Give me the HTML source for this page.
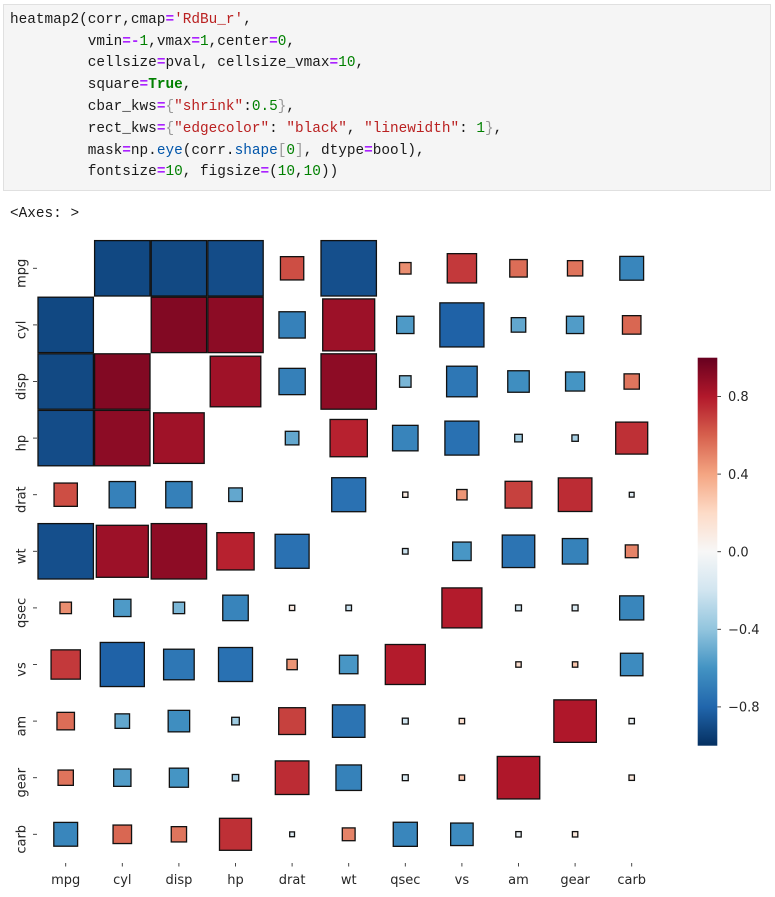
<!DOCTYPE html>
<html>
<head>
<meta charset="utf-8">
<style>
  html, body { margin:0; padding:0; background:#ffffff; }
  body { width:775px; height:897px; position:relative; overflow:hidden; }
  .codebox {
    position:absolute; left:3px; top:4px; width:766px; height:185px;
    background:#f5f5f5; border:1px solid #e0e0e0;
  }
  pre {
    margin:0; font-family:"Liberation Mono", "DejaVu Sans Mono", monospace;
    font-size:14.4px; line-height:21.8px; color:#1a1a1a;
  }
  .codebox pre { position:absolute; left:6px; top:4.8px; }
  .o { color:#aa22ff; font-weight:bold; }
  .s { color:#ba2121; }
  .n { color:#008000; }
  .k { color:#008000; font-weight:bold; }
  .p { color:#0055aa; }
  .b { color:#999999; }
  .out { position:absolute; left:10px; top:204px; }
  svg { position:absolute; left:0; top:0; }
</style>
</head>
<body>
<div class="codebox"><pre>heatmap2(corr,cmap<span class="o">=</span><span class="s">'RdBu_r'</span>,
         vmin<span class="o">=-</span><span class="n">1</span>,vmax<span class="o">=</span><span class="n">1</span>,center<span class="o">=</span><span class="n">0</span>,
         cellsize<span class="o">=</span>pval, cellsize_vmax<span class="o">=</span><span class="n">10</span>,
         square<span class="o">=</span><span class="k">True</span>,
         cbar_kws<span class="o">=</span><span class="b">{</span><span class="s">"shrink"</span>:<span class="n">0.5</span><span class="b">}</span>,
         rect_kws<span class="o">=</span><span class="b">{</span><span class="s">"edgecolor"</span>: <span class="s">"black"</span>, <span class="s">"linewidth"</span>: <span class="n">1</span><span class="b">}</span>,
         mask<span class="o">=</span>np.<span class="p">eye</span>(corr.<span class="p">shape</span><span class="b">[</span><span class="n">0</span><span class="b">]</span>, dtype<span class="o">=</span>bool),
         fontsize<span class="o">=</span><span class="n">10</span>, figsize<span class="o">=</span>(<span class="n">10</span>,<span class="n">10</span>))</pre></div>
<pre class="out">&lt;Axes: &gt;</pre>

<svg width="775" height="897" viewBox="0 0 775 897" xmlns="http://www.w3.org/2000/svg">
  <defs>
    <linearGradient id="cb" x1="0" y1="0" x2="0" y2="1">
      <stop offset="0" stop-color="#67001f"/>
      <stop offset="0.1" stop-color="#b2182b"/>
      <stop offset="0.2" stop-color="#d6604d"/>
      <stop offset="0.3" stop-color="#f4a582"/>
      <stop offset="0.4" stop-color="#fddbc7"/>
      <stop offset="0.5" stop-color="#f7f7f7"/>
      <stop offset="0.6" stop-color="#d1e5f0"/>
      <stop offset="0.7" stop-color="#92c5de"/>
      <stop offset="0.8" stop-color="#4393c3"/>
      <stop offset="0.9" stop-color="#2166ac"/>
      <stop offset="1" stop-color="#053061"/>
    </linearGradient>
  </defs>

  <g stroke="#111111" stroke-width="1.3">
    <!-- row mpg -->
    <rect x="94.6" y="240.6" width="55.4" height="55.4" fill="#114882"/>
    <rect x="151.2" y="240.6" width="55.4" height="55.4" fill="#124983"/>
    <rect x="207.8" y="240.6" width="55.4" height="55.4" fill="#144c88"/>
    <rect x="280.45" y="256.65" width="23.3" height="23.3" fill="#cd4e44"/>
    <rect x="321.0" y="240.6" width="55.4" height="55.4" fill="#154f8c"/>
    <rect x="399.55" y="262.55" width="11.5" height="11.5" fill="#ea8e70"/>
    <rect x="447.25" y="253.65" width="29.3" height="29.3" fill="#c3393b"/>
    <rect x="509.75" y="259.55" width="17.5" height="17.5" fill="#dc6d57"/>
    <rect x="567.45" y="260.65" width="15.3" height="15.3" fill="#df745c"/>
    <rect x="619.8" y="256.4" width="23.8" height="23.8" fill="#3986bc"/>
    <!-- row cyl -->
    <rect x="38.0" y="297.2" width="55.4" height="55.4" fill="#114882"/>
    <rect x="151.2" y="297.2" width="55.4" height="55.4" fill="#820923"/>
    <rect x="207.8" y="297.2" width="55.4" height="55.4" fill="#8c0c25"/>
    <rect x="278.95" y="311.75" width="26.3" height="26.3" fill="#3681ba"/>
    <rect x="322.7" y="298.9" width="52" height="52" fill="#9c1128"/>
    <rect x="396.65" y="316.25" width="17.3" height="17.3" fill="#4e9ac7"/>
    <rect x="439.85" y="302.85" width="44.1" height="44.1" fill="#1f62a7"/>
    <rect x="511.25" y="317.65" width="14.5" height="14.5" fill="#62a7ce"/>
    <rect x="566.45" y="316.25" width="17.3" height="17.3" fill="#519cc8"/>
    <rect x="622.45" y="315.65" width="18.5" height="18.5" fill="#d96752"/>
    <!-- row disp -->
    <rect x="38.0" y="353.8" width="55.4" height="55.4" fill="#124983"/>
    <rect x="94.6" y="353.8" width="55.4" height="55.4" fill="#820923"/>
    <rect x="210.2" y="356.2" width="50.6" height="50.6" fill="#9f1228"/>
    <rect x="278.95" y="368.35" width="26.3" height="26.3" fill="#3580b9"/>
    <rect x="321.0" y="353.8" width="55.4" height="55.4" fill="#8d0c25"/>
    <rect x="399.55" y="375.75" width="11.5" height="11.5" fill="#7ab6d6"/>
    <rect x="446.6" y="366.2" width="30.6" height="30.6" fill="#2e77b5"/>
    <rect x="507.75" y="370.75" width="21.5" height="21.5" fill="#3f8ec0"/>
    <rect x="565.55" y="371.95" width="19.1" height="19.1" fill="#4595c4"/>
    <rect x="624.05" y="373.85" width="15.3" height="15.3" fill="#df755d"/>
    <!-- row hp -->
    <rect x="38.0" y="410.4" width="55.4" height="55.4" fill="#144c88"/>
    <rect x="94.6" y="410.4" width="55.4" height="55.4" fill="#8c0c25"/>
    <rect x="153.6" y="412.8" width="50.6" height="50.6" fill="#9f1228"/>
    <rect x="285.3" y="431.3" width="13.6" height="13.6" fill="#63a7ce"/>
    <rect x="330.05" y="419.45" width="37.3" height="37.3" fill="#b7212f"/>
    <rect x="392.55" y="425.35" width="25.5" height="25.5" fill="#3884bb"/>
    <rect x="444.9" y="421.1" width="34" height="34" fill="#2971b2"/>
    <rect x="514.7" y="434.3" width="7.6" height="7.6" fill="#9ecbe1"/>
    <rect x="571.9" y="434.9" width="6.4" height="6.4" fill="#a8d0e4"/>
    <rect x="615.7" y="422.1" width="32" height="32" fill="#be3036"/>
    <!-- row drat -->
    <rect x="54.05" y="483.05" width="23.3" height="23.3" fill="#cd4e44"/>
    <rect x="109.15" y="481.55" width="26.3" height="26.3" fill="#3681ba"/>
    <rect x="165.75" y="481.55" width="26.3" height="26.3" fill="#3580b9"/>
    <rect x="228.7" y="487.9" width="13.6" height="13.6" fill="#63a7ce"/>
    <rect x="331.7" y="477.7" width="34" height="34" fill="#2a71b2"/>
    <rect x="402.65" y="492.05" width="5.3" height="5.3" fill="#faeae1"/>
    <rect x="456.7" y="489.5" width="10.4" height="10.4" fill="#ed9576"/>
    <rect x="505.1" y="481.3" width="26.8" height="26.8" fill="#c6413e"/>
    <rect x="558.3" y="477.9" width="33.6" height="33.6" fill="#bc2c34"/>
    <rect x="629.3" y="492.3" width="4.8" height="4.8" fill="#dfecf3"/>
    <!-- row wt -->
    <rect x="38.0" y="523.6" width="55.4" height="55.4" fill="#154f8c"/>
    <rect x="96.3" y="525.3" width="52" height="52" fill="#9c1128"/>
    <rect x="151.2" y="523.6" width="55.4" height="55.4" fill="#8d0c25"/>
    <rect x="216.85" y="532.65" width="37.3" height="37.3" fill="#b7212f"/>
    <rect x="275.1" y="534.3" width="34" height="34" fill="#2a71b2"/>
    <rect x="402.5" y="548.5" width="5.6" height="5.6" fill="#c9e1ee"/>
    <rect x="452.65" y="542.05" width="18.5" height="18.5" fill="#4896c5"/>
    <rect x="502.25" y="535.05" width="32.5" height="32.5" fill="#2c74b3"/>
    <rect x="562.35" y="538.55" width="25.5" height="25.5" fill="#3682ba"/>
    <rect x="625.3" y="544.9" width="12.8" height="12.8" fill="#e58368"/>
    <!-- row qsec -->
    <rect x="59.95" y="602.15" width="11.5" height="11.5" fill="#ea8e70"/>
    <rect x="113.65" y="599.25" width="17.3" height="17.3" fill="#4e9ac7"/>
    <rect x="173.15" y="602.15" width="11.5" height="11.5" fill="#7ab6d6"/>
    <rect x="222.75" y="595.15" width="25.5" height="25.5" fill="#3884bb"/>
    <rect x="289.45" y="605.25" width="5.3" height="5.3" fill="#faeae1"/>
    <rect x="345.9" y="605.1" width="5.6" height="5.6" fill="#c9e1ee"/>
    <rect x="441.9" y="587.9" width="40" height="40" fill="#b31b2c"/>
    <rect x="515.55" y="604.95" width="5.9" height="5.9" fill="#d0e5f0"/>
    <rect x="572.15" y="604.95" width="5.9" height="5.9" fill="#dbeaf2"/>
    <rect x="619.65" y="595.85" width="24.1" height="24.1" fill="#3986bc"/>
    <!-- row vs -->
    <rect x="51.05" y="649.85" width="29.3" height="29.3" fill="#c3393b"/>
    <rect x="100.25" y="642.45" width="44.1" height="44.1" fill="#1f62a7"/>
    <rect x="163.6" y="649.2" width="30.6" height="30.6" fill="#2e77b5"/>
    <rect x="218.5" y="647.5" width="34" height="34" fill="#2971b2"/>
    <rect x="286.9" y="659.3" width="10.4" height="10.4" fill="#ed9576"/>
    <rect x="339.45" y="655.25" width="18.5" height="18.5" fill="#4896c5"/>
    <rect x="385.3" y="644.5" width="40" height="40" fill="#b31b2c"/>
    <rect x="515.8" y="661.8" width="5.4" height="5.4" fill="#fcdfcf"/>
    <rect x="572.4" y="661.8" width="5.4" height="5.4" fill="#f9c5ac"/>
    <rect x="620.45" y="653.25" width="22.5" height="22.5" fill="#3d8bbf"/>
    <!-- row am -->
    <rect x="56.95" y="712.35" width="17.5" height="17.5" fill="#dc6d57"/>
    <rect x="115.05" y="713.85" width="14.5" height="14.5" fill="#62a7ce"/>
    <rect x="168.15" y="710.35" width="21.5" height="21.5" fill="#3f8ec0"/>
    <rect x="231.7" y="717.3" width="7.6" height="7.6" fill="#9ecbe1"/>
    <rect x="278.7" y="707.7" width="26.8" height="26.8" fill="#c6413e"/>
    <rect x="332.45" y="704.85" width="32.5" height="32.5" fill="#2c74b3"/>
    <rect x="402.35" y="718.15" width="5.9" height="5.9" fill="#d0e5f0"/>
    <rect x="459.2" y="718.4" width="5.4" height="5.4" fill="#fcdfcf"/>
    <rect x="553.85" y="699.85" width="42.5" height="42.5" fill="#af172a"/>
    <rect x="629.0" y="718.4" width="5.4" height="5.4" fill="#ebf1f5"/>
    <!-- row gear -->
    <rect x="58.05" y="770.05" width="15.3" height="15.3" fill="#df745c"/>
    <rect x="113.65" y="769.05" width="17.3" height="17.3" fill="#519cc8"/>
    <rect x="169.35" y="768.15" width="19.1" height="19.1" fill="#4595c4"/>
    <rect x="232.3" y="774.5" width="6.4" height="6.4" fill="#a8d0e4"/>
    <rect x="275.3" y="760.9" width="33.6" height="33.6" fill="#bc2c34"/>
    <rect x="335.95" y="764.95" width="25.5" height="25.5" fill="#3682ba"/>
    <rect x="402.35" y="774.75" width="5.9" height="5.9" fill="#dbeaf2"/>
    <rect x="459.2" y="775.0" width="5.4" height="5.4" fill="#f9c5ac"/>
    <rect x="497.25" y="756.45" width="42.5" height="42.5" fill="#af172a"/>
    <rect x="629.0" y="775.0" width="5.4" height="5.4" fill="#fae7db"/>
    <!-- row carb -->
    <rect x="53.8" y="822.4" width="23.8" height="23.8" fill="#3986bc"/>
    <rect x="113.05" y="825.05" width="18.5" height="18.5" fill="#d96752"/>
    <rect x="171.25" y="826.65" width="15.3" height="15.3" fill="#df755d"/>
    <rect x="219.5" y="818.3" width="32" height="32" fill="#be3036"/>
    <rect x="289.7" y="831.9" width="4.8" height="4.8" fill="#dfecf3"/>
    <rect x="342.3" y="827.9" width="12.8" height="12.8" fill="#e58368"/>
    <rect x="393.25" y="822.25" width="24.1" height="24.1" fill="#3986bc"/>
    <rect x="450.65" y="823.05" width="22.5" height="22.5" fill="#3d8bbf"/>
    <rect x="515.8" y="831.6" width="5.4" height="5.4" fill="#ebf1f5"/>
    <rect x="572.4" y="831.6" width="5.4" height="5.4" fill="#fae7db"/>
  </g>

  <!-- axis ticks -->
  <g stroke="#333333" stroke-width="0.9">
    <line x1="65.7" y1="863" x2="65.7" y2="866.5"/>
    <line x1="122.3" y1="863" x2="122.3" y2="866.5"/>
    <line x1="178.9" y1="863" x2="178.9" y2="866.5"/>
    <line x1="235.5" y1="863" x2="235.5" y2="866.5"/>
    <line x1="292.1" y1="863" x2="292.1" y2="866.5"/>
    <line x1="348.7" y1="863" x2="348.7" y2="866.5"/>
    <line x1="405.3" y1="863" x2="405.3" y2="866.5"/>
    <line x1="461.9" y1="863" x2="461.9" y2="866.5"/>
    <line x1="518.5" y1="863" x2="518.5" y2="866.5"/>
    <line x1="575.1" y1="863" x2="575.1" y2="866.5"/>
    <line x1="631.7" y1="863" x2="631.7" y2="866.5"/>

    <line x1="33" y1="268.3" x2="37" y2="268.3"/>
    <line x1="33" y1="324.9" x2="37" y2="324.9"/>
    <line x1="33" y1="381.5" x2="37" y2="381.5"/>
    <line x1="33" y1="438.1" x2="37" y2="438.1"/>
    <line x1="33" y1="494.7" x2="37" y2="494.7"/>
    <line x1="33" y1="551.3" x2="37" y2="551.3"/>
    <line x1="33" y1="607.9" x2="37" y2="607.9"/>
    <line x1="33" y1="664.5" x2="37" y2="664.5"/>
    <line x1="33" y1="721.1" x2="37" y2="721.1"/>
    <line x1="33" y1="777.7" x2="37" y2="777.7"/>
    <line x1="33" y1="834.3" x2="37" y2="834.3"/>

    <line x1="717.3" y1="396.5" x2="721" y2="396.5"/>
    <line x1="717.3" y1="474.1" x2="721" y2="474.1"/>
    <line x1="717.3" y1="551.7" x2="721" y2="551.7"/>
    <line x1="717.3" y1="629.3" x2="721" y2="629.3"/>
    <line x1="717.3" y1="706.9" x2="721" y2="706.9"/>
  </g>

  <g font-family="'DejaVu Sans', 'Liberation Sans', sans-serif" font-size="13" fill="#262626">
    <!-- x labels -->
    <g text-anchor="middle">
      <text x="65.7" y="884">mpg</text>
      <text x="122.3" y="884">cyl</text>
      <text x="178.9" y="884">disp</text>
      <text x="235.5" y="884">hp</text>
      <text x="292.1" y="884">drat</text>
      <text x="348.7" y="884">wt</text>
      <text x="405.3" y="884">qsec</text>
      <text x="461.9" y="884">vs</text>
      <text x="518.5" y="884">am</text>
      <text x="575.1" y="884">gear</text>
      <text x="631.7" y="884">carb</text>
    </g>
    <!-- y labels -->
    <g text-anchor="middle">
      <text transform="translate(25.5 273.3) rotate(-90)">mpg</text>
      <text transform="translate(25.5 329.9) rotate(-90)">cyl</text>
      <text transform="translate(25.5 386.5) rotate(-90)">disp</text>
      <text transform="translate(25.5 443.1) rotate(-90)">hp</text>
      <text transform="translate(25.5 499.7) rotate(-90)">drat</text>
      <text transform="translate(25.5 556.3) rotate(-90)">wt</text>
      <text transform="translate(25.5 612.9) rotate(-90)">qsec</text>
      <text transform="translate(25.5 669.5) rotate(-90)">vs</text>
      <text transform="translate(25.5 726.1) rotate(-90)">am</text>
      <text transform="translate(25.5 782.7) rotate(-90)">gear</text>
      <text transform="translate(25.5 839.3) rotate(-90)">carb</text>
    </g>
    <!-- colorbar labels -->
    <text x="728" y="401.2">0.8</text>
    <text x="728" y="478.8">0.4</text>
    <text x="728" y="556.4">0.0</text>
    <text x="728" y="634">−0.4</text>
    <text x="728" y="711.6">−0.8</text>
  </g>

  <!-- colorbar -->
  <rect x="697.7" y="357.7" width="19.6" height="388" fill="url(#cb)"/>
</svg>
</body>
</html>
